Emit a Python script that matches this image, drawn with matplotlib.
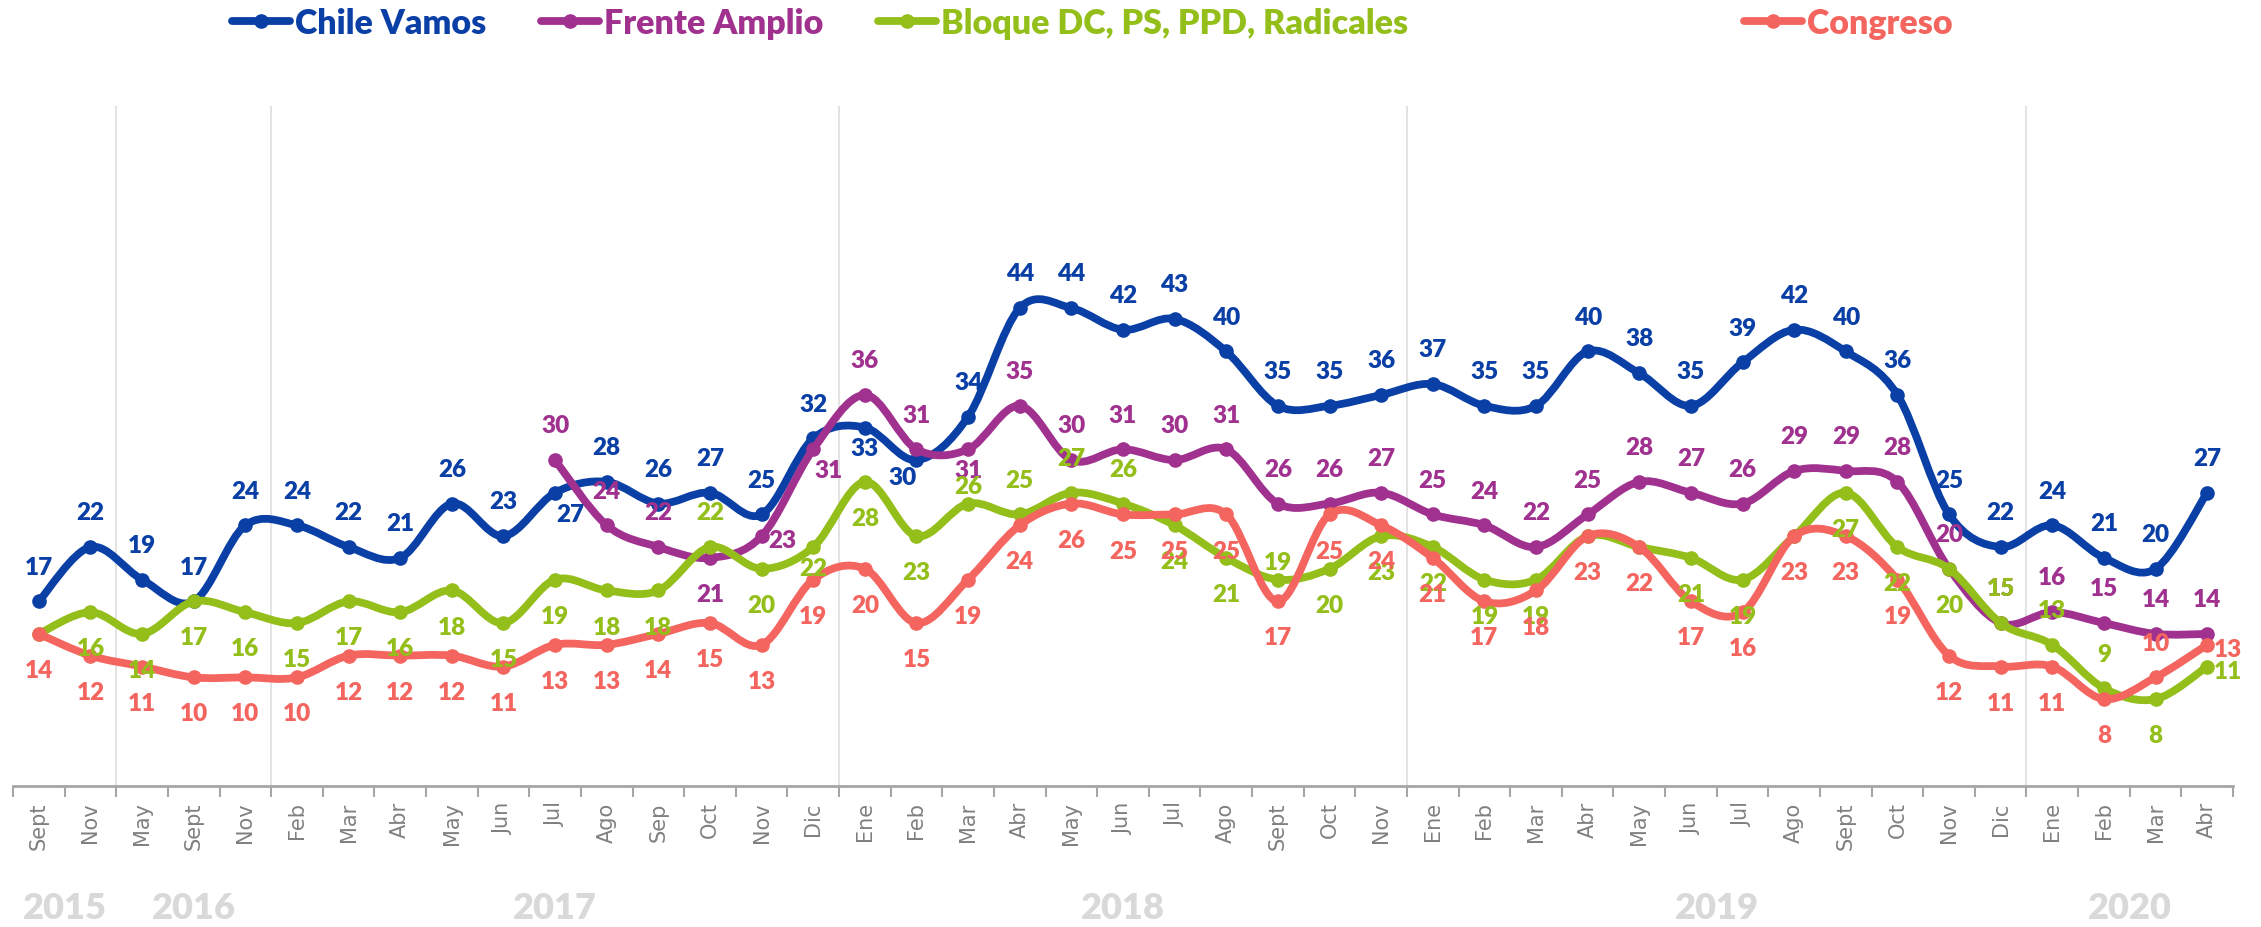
import numpy as np
import matplotlib
matplotlib.use("Agg")
import matplotlib.pyplot as plt
from matplotlib.path import Path
from matplotlib.patches import PathPatch
from matplotlib.lines import Line2D

# Months (x categories) and the year each group belongs to
months = ['Sept', 'Nov', 'May', 'Sept', 'Nov', 'Feb', 'Mar', 'Abr', 'May', 'Jun',
          'Jul', 'Ago', 'Sep', 'Oct', 'Nov', 'Dic', 'Ene', 'Feb', 'Mar', 'Abr',
          'May', 'Jun', 'Jul', 'Ago', 'Sept', 'Oct', 'Nov', 'Ene', 'Feb', 'Mar',
          'Abr', 'May', 'Jun', 'Jul', 'Ago', 'Sept', 'Oct', 'Nov', 'Dic', 'Ene',
          'Feb', 'Mar', 'Abr']
years = ['2015', '2016', '2017', '2018', '2019', '2020']
year_start = [0, 2, 5, 16, 27, 39]

# Series values
chile_vamos = [17, 22, 19, 17, 24, 24, 22, 21, 26, 23,
               27, 28, 26, 27, 25, 32, 33, 30, 34, 44,
               44, 42, 43, 40, 35, 35, 36, 37, 35, 35,
               40, 38, 35, 39, 42, 40, 36, 25, 22, 24,
               21, 20, 27]
frente_amplio = [None] * 10 + [30, 24, 22, 21, 23, 31, 36, 31, 31, 35,
                               30, 31, 30, 31, 26, 26, 27, 25, 24, 22,
                               25, 28, 27, 26, 29, 29, 28, 20, 15, 16,
                               15, 14, 14]
bloque = [14, 16, 14, 17, 16, 15, 17, 16, 18, 15,
          19, 18, 18, 22, 20, 22, 28, 23, 26, 25,
          27, 26, 24, 21, 19, 20, 23, 22, 19, 19,
          23, 22, 21, 19, 23, 27, 22, 20, 15, 13,
          9, 8, 11]
congreso = [14, 12, 11, 10, 10, 10, 12, 12, 12, 11,
            13, 13, 14, 15, 13, 19, 20, 15, 19, 24,
            26, 25, 25, 25, 17, 25, 24, 21, 17, 18,
            23, 22, 17, 16, 23, 23, 19, 12, 11, 11,
            8, 10, 13]

# where each data label sits: a = above, f = close above, b = below, c = close below,
# d = below left, e = below right, r = right, - = none
chile_pos = "a" * 10 + "e" + "a" * 5 + "cd" + "a" * 25
fa_pos = "-" * 10 + "aaabreaac" + "a" * 24
bloque_pos = "-" + "b" * 12 + "a" + "bcbb" + "faaa" + "bb" + "f" + "bbbbb" + "--" + "bb" + "-" + "bbb" + "aaa" + "b" + "r"
congreso_pos = "b" * 41 + "ar"

series = [
    ("Chile Vamos", chile_vamos, chile_pos, "#0A3FA6"),
    ("Frente Amplio", frente_amplio, fa_pos, "#A0318F"),
    ("Bloque DC, PS, PPD, Radicales", bloque, bloque_pos, "#94BE1A"),
    ("Congreso", congreso, congreso_pos, "#F4655F"),
]
legend_x = [232, 541, 878, 1744]

offsets = {"a": (0, 25), "f": (0, 13), "b": (0, -26), "c": (0, -15),
           "d": (-10, -12), "e": (11, -15), "r": (15, -3)}
FONT = ["Lato", "DejaVu Sans"]


def smooth_path(x, y):
    # bezier through the points, similar to Excel's "smoothed line"
    n = len(x)
    verts = [(x[0], y[0])]
    codes = [Path.MOVETO]
    for i in range(n - 1):
        xp, yp = (x[i - 1], y[i - 1]) if i > 0 else (x[i], y[i])
        xn, yn = (x[i + 2], y[i + 2]) if i + 2 < n else (x[i + 1], y[i + 1])
        c1 = (x[i] + (x[i + 1] - xp) / 6, y[i] + (y[i + 1] - yp) / 6)
        c2 = (x[i + 1] - (xn - x[i]) / 6, y[i + 1] - (yn - y[i]) / 6)
        verts += [c1, c2, (x[i + 1], y[i + 1])]
        codes += [Path.CURVE4] * 3
    return Path(verts, codes)


fig = plt.figure(figsize=(22.61, 9.28), dpi=100)
ax = fig.add_axes([13 / 2261, (928 - 787) / 928, 2220 / 2261, 680 / 928])
ax.set_xlim(-0.5, len(months) - 0.5)
ax.set_ylim(0, 62.6)

# year separators
for s in year_start[1:]:
    ax.axvline(s - 0.5, color="#dedede", lw=1.2, zorder=0)

for k, (name, vals, pos, col) in enumerate(series):
    xs = [i for i, v in enumerate(vals) if v is not None]
    ys = [vals[i] for i in xs]
    patch = PathPatch(smooth_path(xs, ys), fill=False, edgecolor=col, lw=5.6,
                      capstyle="round", joinstyle="round", zorder=2 + k)
    ax.add_patch(patch)
    ax.plot(xs, ys, "o", color=col, ms=9.5, zorder=2 + k)

# data labels on top of everything
for name, vals, pos, col in series:
    for i, v in enumerate(vals):
        if v is None or pos[i] == "-":
            continue
        ax.annotate(str(v), (i, v), xytext=offsets[pos[i]], textcoords="offset points",
                    ha="center", va="center", fontsize=17.5, fontweight="heavy",
                    color=col, family=FONT, zorder=10)

# x axis
ax.set_xticks(range(len(months)))
ax.set_xticklabels(months, rotation=90, fontsize=15, color="#808080")
ax.tick_params(axis="x", which="major", length=0, pad=11)
ax.set_xticks(np.arange(-0.5, len(months), 1), minor=True)
ax.tick_params(axis="x", which="minor", length=8, width=1.5, color="#a6a6a6")
ax.set_yticks([])
for sp in ["left", "top", "right"]:
    ax.spines[sp].set_visible(False)
ax.spines["bottom"].set_color("#a6a6a6")
ax.spines["bottom"].set_linewidth(2)

# year labels under the month labels
bounds = year_start + [len(months)]
for j, yr in enumerate(years):
    center = (bounds[j] + bounds[j + 1] - 1) / 2
    ax.text(center, -0.178, yr, transform=ax.get_xaxis_transform(), ha="center",
            va="center", fontsize=26, fontweight="heavy", color="#d9d9d9", family=FONT)

# legend entries, each placed where the reference has it
for (name, vals, pos, col), lx in zip(series, legend_x):
    h = Line2D([], [], color=col, lw=5.6, marker="o", ms=9.5, solid_capstyle="round")
    fig.legend([h], [name], loc="center left", bbox_to_anchor=(lx / 2261, 0.974),
               frameon=False, prop=dict(family=FONT, weight="heavy", size=24.5),
               borderpad=0, borderaxespad=0, handlelength=1.7, handletextpad=0.15,
               labelcolor="linecolor")

fig.savefig("out.png", dpi=100)
